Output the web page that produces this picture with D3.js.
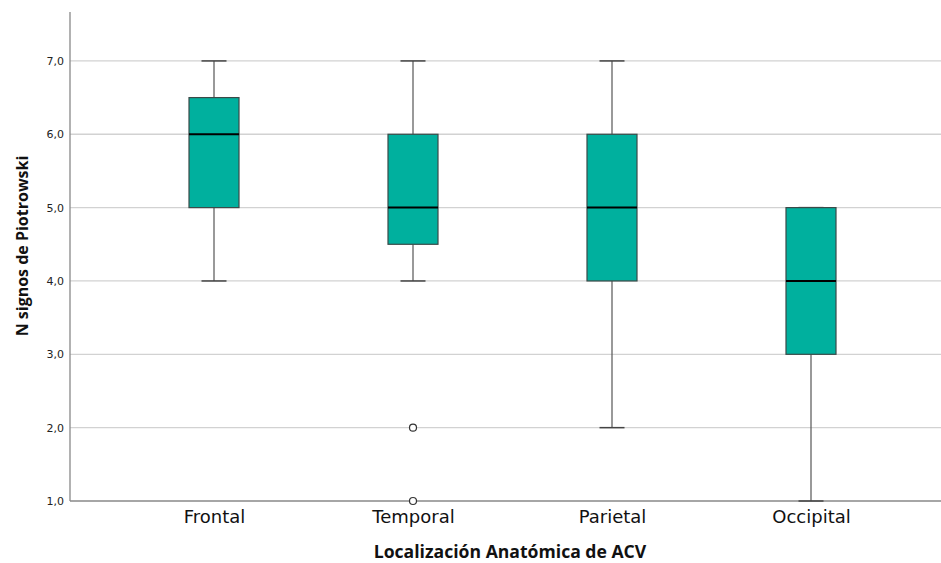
<!DOCTYPE html>
<html>
<head>
<meta charset="utf-8">
<script src="https://cdn.jsdelivr.net/npm/d3@7"></script>
<style>
  body { margin: 0; background: #fff; }
  svg { display: block; }
</style>
</head>
<body>
<div id="chart"></div>
<script>
// Data
const categories = ['Frontal', 'Temporal', 'Parietal', 'Occipital'];
const whiskerLow = [4, 4, 2, 1];
const q1 = [5, 4.5, 4, 3];
const medians = [6, 5, 5, 4];
const q3 = [6.5, 6, 6, 5];
const whiskerHigh = [7, 7, 7, 5];
const outliers = [[], [2, 1], [], []];
const yTicks = [1, 2, 3, 4, 5, 6, 7];

const width = 941, height = 563;
const plotLeft = 70, plotTop = 12, plotBottom = 501, plotRight = 941;

const svg = d3.select('#chart').append('svg')
  .attr('width', width)
  .attr('height', height);

// Scales
const x = d3.scalePoint().domain(categories).range([214, 811]);
const y = d3.scaleLinear().domain([1, 7.667]).range([plotBottom, plotTop]);

const fmt = (d) => d3.format('.1f')(d).replace('.', ',');

// Gridlines
svg.append('g')
  .selectAll('line')
  .data(yTicks.slice(1))
  .join('line')
  .attr('x1', plotLeft)
  .attr('x2', plotRight)
  .attr('y1', (d) => y(d))
  .attr('y2', (d) => y(d))
  .attr('stroke', '#d2d2d2')
  .attr('stroke-width', 1.3);

// Y axis
const yAxis = svg.append('g')
  .attr('transform', `translate(${plotLeft},0)`)
  .call(d3.axisLeft(y).tickValues(yTicks).tickFormat(fmt).tickSize(0).tickPadding(6));
yAxis.select('.domain').remove();
yAxis.selectAll('text')
  .attr('font-family', '"DejaVu Sans", sans-serif')
  .attr('font-size', 11)
  .attr('fill', '#222');

svg.append('line')
  .attr('x1', plotLeft).attr('x2', plotLeft)
  .attr('y1', plotTop).attr('y2', plotBottom)
  .attr('stroke', '#888').attr('stroke-width', 1.3);

// X axis
const xAxis = svg.append('g')
  .attr('transform', `translate(0,${plotBottom})`)
  .call(d3.axisBottom(x).tickSize(0).tickPadding(9));
xAxis.select('.domain').remove();
xAxis.selectAll('text')
  .attr('font-family', '"DejaVu Sans", sans-serif')
  .attr('font-size', 18)
  .attr('fill', '#111');

svg.append('line')
  .attr('x1', plotLeft).attr('x2', plotRight)
  .attr('y1', plotBottom).attr('y2', plotBottom)
  .attr('stroke', '#888').attr('stroke-width', 1.3);

// Boxes
const boxW = 50, capW = 25;
const boxes = svg.append('g')
  .selectAll('g')
  .data(categories)
  .join('g');

boxes.append('line')
  .attr('x1', (d) => x(d)).attr('x2', (d) => x(d))
  .attr('y1', (d, i) => y(whiskerLow[i]))
  .attr('y2', (d, i) => y(q1[i]))
  .attr('stroke', '#555').attr('stroke-width', 1.2);

boxes.append('line')
  .attr('x1', (d) => x(d)).attr('x2', (d) => x(d))
  .attr('y1', (d, i) => y(q3[i]))
  .attr('y2', (d, i) => y(whiskerHigh[i]))
  .attr('stroke', '#555').attr('stroke-width', 1.2);

boxes.selectAll('.cap')
  .data((d, i) => [[d, whiskerLow[i]], [d, whiskerHigh[i]]])
  .join('line')
  .attr('class', 'cap')
  .attr('x1', (p) => x(p[0]) - capW / 2)
  .attr('x2', (p) => x(p[0]) + capW / 2)
  .attr('y1', (p) => y(p[1]))
  .attr('y2', (p) => y(p[1]))
  .attr('stroke', '#444').attr('stroke-width', 1.5);

boxes.append('rect')
  .attr('x', (d) => x(d) - boxW / 2)
  .attr('width', boxW)
  .attr('y', (d, i) => y(q3[i]))
  .attr('height', (d, i) => y(q1[i]) - y(q3[i]))
  .attr('fill', '#00b09e')
  .attr('stroke', '#3a4a48')
  .attr('stroke-width', 1.2);

boxes.append('line')
  .attr('x1', (d) => x(d) - boxW / 2)
  .attr('x2', (d) => x(d) + boxW / 2)
  .attr('y1', (d, i) => y(medians[i]))
  .attr('y2', (d, i) => y(medians[i]))
  .attr('stroke', '#000').attr('stroke-width', 2);

// Outliers
boxes.selectAll('circle')
  .data((d, i) => outliers[i].map((v) => [d, v]))
  .join('circle')
  .attr('cx', (p) => x(p[0]))
  .attr('cy', (p) => y(p[1]))
  .attr('r', 3.5)
  .attr('fill', '#fff')
  .attr('stroke', '#333')
  .attr('stroke-width', 1.2);

// Axis titles
svg.append('text')
  .attr('x', 510)
  .attr('y', 558)
  .attr('text-anchor', 'middle')
  .attr('font-family', '"Open Sans", sans-serif')
  .attr('font-weight', 'bold')
  .attr('font-size', 17.6)
  .attr('fill', '#111')
  .text('Localización Anatómica de ACV');

svg.append('text')
  .attr('transform', 'translate(28,246) rotate(-90)')
  .attr('text-anchor', 'middle')
  .attr('font-family', '"Open Sans", sans-serif')
  .attr('font-weight', 'bold')
  .attr('font-size', 16)
  .attr('fill', '#111')
  .text('N signos de Piotrowski');
</script>
</body>
</html>
